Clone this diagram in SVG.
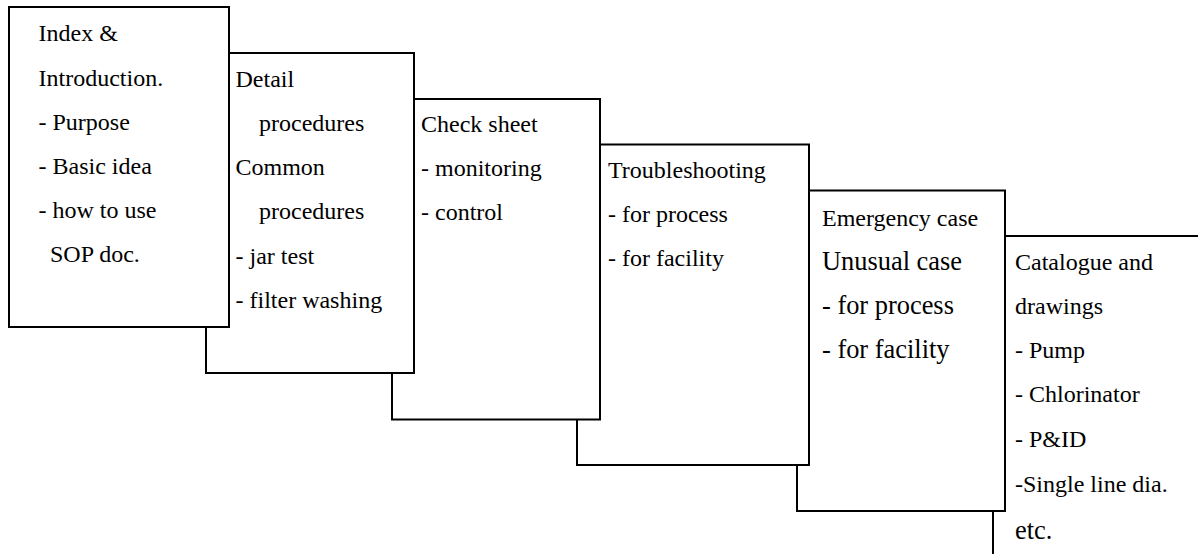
<svg xmlns="http://www.w3.org/2000/svg" width="1198" height="554" viewBox="0 0 1198 554">
  <style>
    .sheet { fill: #ffffff; stroke: #000000; stroke-width: 2; }
    text { font-size: 24px; fill: #000000; }
    .big { font-size: 26.4px; }
  </style>
  <rect width="1198" height="554" fill="#ffffff"/>

  <!-- Stacked document sheets: drawn back to front so each earlier sheet overlaps the next -->
  <g font-family="Liberation Serif, Times New Roman, DejaVu Serif, serif">
  <g id="sheet-catalogue">
    <rect class="sheet" x="993" y="236" width="230" height="340"/>
    <text x="1015" y="269.5">Catalogue and</text>
    <text x="1015" y="313.5">drawings</text>
    <text x="1015" y="358">- Pump</text>
    <text x="1015" y="402">- Chlorinator</text>
    <text x="1015" y="446.5">- P&amp;ID</text>
    <text x="1015" y="491.5">-Single line dia.</text>
    <text class="big" x="1015" y="539">etc.</text>
  </g>

  <g id="sheet-emergency">
    <rect class="sheet" x="797" y="190.5" width="208" height="320.5"/>
    <text x="822" y="225.5">Emergency case</text>
    <text class="big" x="822" y="269.5">Unusual case</text>
    <text class="big" x="822" y="313.5">- for process</text>
    <text class="big" x="822" y="358">- for facility</text>
  </g>

  <g id="sheet-troubleshooting">
    <rect class="sheet" x="577" y="144.5" width="232" height="320.5"/>
    <text x="608" y="177.5">Troubleshooting</text>
    <text x="608" y="221.5">- for process</text>
    <text x="608" y="266">- for facility</text>
  </g>

  <g id="sheet-check">
    <rect class="sheet" x="392" y="99" width="208" height="320.5"/>
    <text x="421" y="131.5">Check sheet</text>
    <text x="421" y="176">- monitoring</text>
    <text x="421" y="220">- control</text>
  </g>

  <g id="sheet-detail">
    <rect class="sheet" x="206" y="53" width="208" height="320"/>
    <text x="235.5" y="86.5">Detail</text>
    <text x="259" y="130.5">procedures</text>
    <text x="235.5" y="175">Common</text>
    <text x="259" y="219">procedures</text>
    <text x="235.5" y="263.5">- jar test</text>
    <text x="235.5" y="308">- filter washing</text>
  </g>

  <g id="sheet-index">
    <rect class="sheet" x="9" y="7" width="220" height="320"/>
    <text x="38.5" y="40.5">Index &amp;</text>
    <text x="38.5" y="85.5">Introduction.</text>
    <text x="38.5" y="129.5">- Purpose</text>
    <text x="38.5" y="173.5">- Basic idea</text>
    <text x="38.5" y="218">- how to use</text>
    <text x="50" y="262">SOP doc.</text>
  </g>
  </g>

  <g id="connectors"></g>
</svg>
